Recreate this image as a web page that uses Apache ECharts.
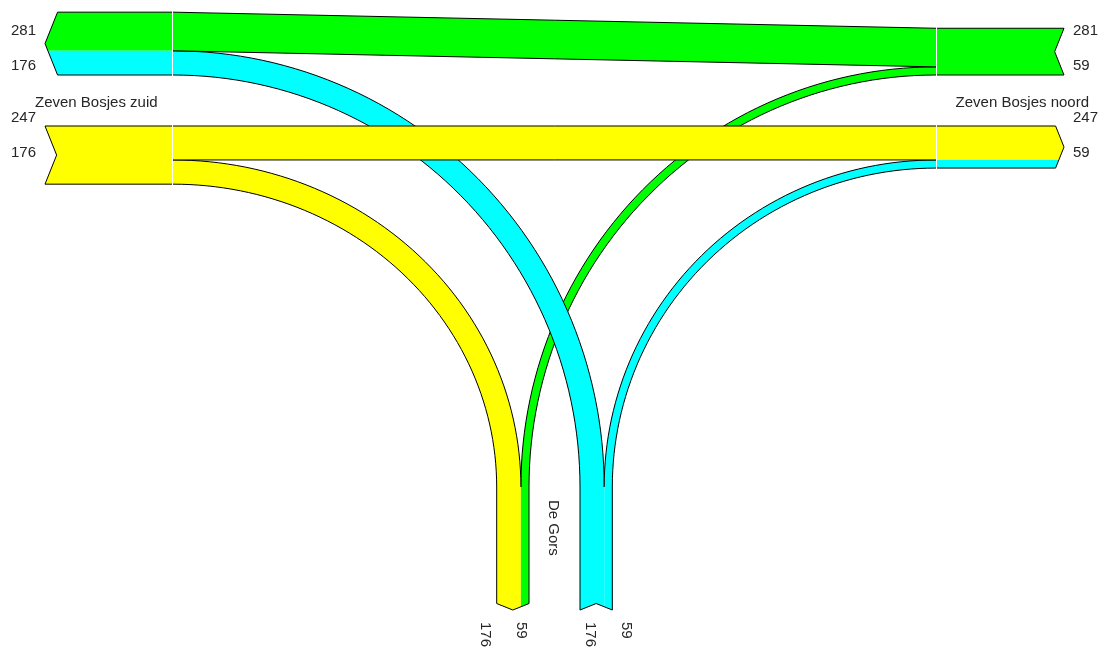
<!DOCTYPE html>
<html>
<head>
<meta charset="utf-8">
<script src="https://cdn.jsdelivr.net/npm/echarts@6/dist/echarts.min.js"></script>
<style>
  html, body { margin: 0; padding: 0; background: #fff; }
  #main { width: 1107px; height: 649px; }
</style>
</head>
<body>
<div id="main"></div>
<script>
// arms of the junction: 0 = west, 1 = east, 2 = south
const armNames = ['Zeven Bosjes zuid', 'Zeven Bosjes noord', 'De Gors'];
// flows (from -> to)
const flowFrom = [0, 0, 1, 1, 2, 2];
const flowTo = [1, 2, 0, 2, 0, 1];
const flowValues = [247, 176, 281, 59, 176, 59];

// colours by origin arm
const armColors = ['#ffff00', '#00ff00', '#00ffff'];
const textColor = '#262626';
const font = '15px "Liberation Sans", Arial, sans-serif';

// layout (in the hidden axes' units)
const cx = 554.5, cy = 100.5, halfGap = 25.5;
const xL = 173, xR = 936, yB = 487;
const armLen = [128, 128, 123];
const k = 0.1375; // width per vehicle

function band(ids, edge, alignEnd) {
  const total = ids.reduce((s, i) => s + flowValues[i] * k, 0);
  let p = alignEnd ? edge - total : edge;
  const lo = p, seg = {};
  ids.forEach(i => { seg[i] = [p, p + flowValues[i] * k]; p += flowValues[i] * k; });
  return { seg: seg, lo: lo, hi: lo + total };
}

const westOut = band([2, 4], cy - halfGap, true);
const westIn = band([0, 1], cy + halfGap, false);
const eastIn = band([2, 3], cy - halfGap, true);
const eastOut = band([0, 5], cy + halfGap, false);
const southOut = band([1, 3], cx - halfGap, true);
const southIn = band([4, 5], cx + halfGap, false);

const armBands = [
  { arm: 0, b: westOut, out: true, lab: [cy - 70, cy - 34.5] },
  { arm: 0, b: westIn, out: false, lab: [cy + 17, cy + 52] },
  { arm: 1, b: eastIn, out: false, lab: [cy - 70, cy - 34.5] },
  { arm: 1, b: eastOut, out: true, lab: [cy + 17, cy + 52] },
  { arm: 2, b: southOut, out: true, lab: [cx - 69.5, cx - 33.5] },
  { arm: 2, b: southIn, out: false, lab: [cx + 35.5, cx + 71.5] }
];

// local (along, across) -> layout xy
const armMap = [
  (u, v) => [xL - u, v],
  (u, v) => [xR + u, v],
  (u, v) => [v, yB + u]
];
// small seam left between the arm and the junction piece
const armSeam = [1, 1, 0];

function ellipse(ox, oy, s, rx, ry) {
  const pts = [], n = 60;
  for (let j = 0; j <= n; j++) {
    const t = j / n * Math.PI / 2;
    pts.push([ox + s * rx * Math.sin(t), oy - ry * Math.cos(t)]);
  }
  return pts;
}

function junction(i) {
  let a, b;
  if (i === 0) {
    a = [[xL, westIn.seg[0][0]], [xR, eastOut.seg[0][0]]];
    b = [[xL, westIn.seg[0][1]], [xR, eastOut.seg[0][1]]];
  } else if (i === 2) {
    a = [[xL, westOut.seg[2][0]], [xR, eastIn.seg[2][0]]];
    b = [[xL, westOut.seg[2][1]], [xR, eastIn.seg[2][1]]];
  } else if (i === 1) {
    a = ellipse(xL, yB, 1, southOut.seg[1][0] - xL, yB - westIn.seg[1][1]);
    b = ellipse(xL, yB, 1, southOut.seg[1][1] - xL, yB - westIn.seg[1][0]);
  } else if (i === 4) {
    a = ellipse(xL, yB, 1, southIn.seg[4][0] - xL, yB - westOut.seg[4][1]);
    b = ellipse(xL, yB, 1, southIn.seg[4][1] - xL, yB - westOut.seg[4][0]);
  } else if (i === 3) {
    a = ellipse(xR, yB, -1, xR - southOut.seg[3][1], yB - eastIn.seg[3][1]);
    b = ellipse(xR, yB, -1, xR - southOut.seg[3][0], yB - eastIn.seg[3][0]);
  } else {
    a = ellipse(xR, yB, -1, xR - southIn.seg[5][1], yB - eastOut.seg[5][1]);
    b = ellipse(xR, yB, -1, xR - southIn.seg[5][0], yB - eastOut.seg[5][0]);
  }
  return { a: a, b: b, fill: a.concat(b.slice().reverse()) };
}

// end of an arm band (arrow tip for outgoing, notch for incoming)
function armEnd(ab, v) {
  const h2 = (ab.b.hi - ab.b.lo) / 2, mid = ab.b.lo + h2;
  const d = 0.2 * (ab.b.hi - ab.b.lo), L = armLen[ab.arm];
  const r = Math.abs(v - mid) / h2;
  return ab.out ? L - d * r : L - d * (1 - r);
}

function armPiece(ab, a, b) {
  const mid = (ab.b.lo + ab.b.hi) / 2;
  const s0 = armSeam[ab.arm];
  const loc = [[s0, a], [armEnd(ab, a), a]];
  if (mid > a && mid < b) loc.push([armEnd(ab, mid), mid]);
  loc.push([armEnd(ab, b), b], [s0, b]);
  return loc.map(p => armMap[ab.arm](p[0], p[1]));
}

const drawOrder = { 3: 1, 4: 2, 5: 3, 1: 4, 0: 5, 2: 6 };

function renderFlow(params, api) {
  const i = api.value(0);
  const toPx = pts => pts.map(p => api.coord(p));
  const color = armColors[flowFrom[i]];
  const j = junction(i);
  const z = drawOrder[i] * 2;
  const children = [
    { type: 'polygon', z2: z, shape: { points: toPx(j.fill) }, style: { fill: color, stroke: null } },
    { type: 'polyline', z2: z + 1, shape: { points: toPx(j.a) }, style: { stroke: '#000', fill: null, lineWidth: 1 } },
    { type: 'polyline', z2: z + 1, shape: { points: toPx(j.b) }, style: { stroke: '#000', fill: null, lineWidth: 1 } }
  ];
  armBands.forEach(ab => {
    const s = ab.b.seg[i];
    if (!s) return;
    children.push({ type: 'polygon', z2: 50, shape: { points: toPx(armPiece(ab, s[0], s[1])) }, style: { fill: color, stroke: null } });
    const idx = Object.keys(ab.b.seg).map(Number).indexOf(i);
    const across = ab.lab[idx];
    let x, y, rot = 0, align;
    if (ab.arm === 0) { [x, y] = api.coord([36, across]); align = 'right'; }
    else if (ab.arm === 1) { [x, y] = api.coord([1073, across]); align = 'left'; }
    else { [x, y] = api.coord([across, 622]); align = 'left'; rot = -Math.PI / 2; }
    children.push({
      type: 'text', z2: 80, x: x, y: y, rotation: rot,
      style: { text: String(flowValues[i]), fill: textColor, font: font, align: align, verticalAlign: 'middle' }
    });
  });
  return { type: 'group', children: children };
}

function renderArm(params, api) {
  const arm = api.value(0);
  const toPx = pts => pts.map(p => api.coord(p));
  const children = [];
  armBands.filter(ab => ab.arm === arm).forEach(ab => {
    children.push({ type: 'polyline', z2: 60, shape: { points: toPx(armPiece(ab, ab.b.lo, ab.b.hi)) }, style: { stroke: '#000', fill: null, lineWidth: 1 } });
  });
  let x, y, rot = 0, align;
  if (arm === 0) { [x, y] = api.coord([35, cy + 2]); align = 'left'; }
  else if (arm === 1) { [x, y] = api.coord([1089, cy + 2]); align = 'right'; }
  else { [x, y] = api.coord([cx - 1, 500]); align = 'left'; rot = -Math.PI / 2; }
  children.push({
    type: 'text', z2: 80, x: x, y: y, rotation: rot,
    style: { text: armNames[arm], fill: textColor, font: font, align: align, verticalAlign: 'middle' }
  });
  return { type: 'group', children: children };
}

const myChart = echarts.init(document.getElementById('main'));

const option = {
  animation: false,
  grid: { left: 0, right: 0, top: 0, bottom: 0 },
  xAxis: { type: 'value', min: 0, max: 1107, show: false },
  yAxis: { type: 'value', min: 0, max: 649, inverse: true, show: false },
  series: [
    {
      type: 'custom',
      name: 'flows',
      clip: false,
      silent: true,
      renderItem: renderFlow,
      encode: { x: 0, y: 1 },
      data: flowValues.map((v, i) => [i, v])
    },
    {
      type: 'custom',
      name: 'arms',
      clip: false,
      silent: true,
      renderItem: renderArm,
      encode: { x: 0, y: 0 },
      data: armNames.map((n, i) => [i])
    }
  ]
};

myChart.setOption(option);
</script>
</body>
</html>
